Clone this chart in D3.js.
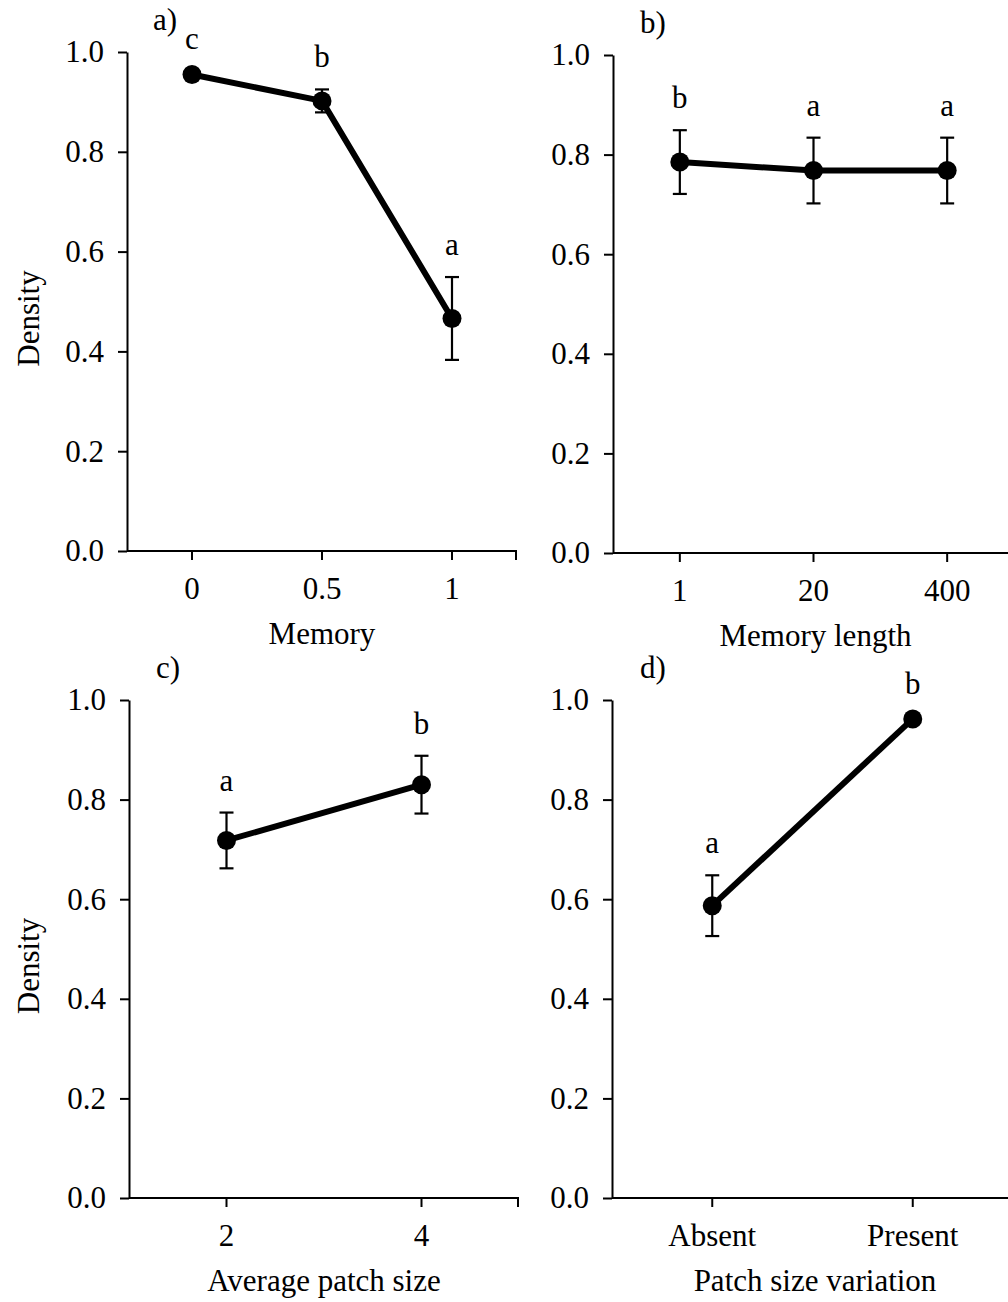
<!DOCTYPE html>
<html>
<head>
<meta charset="utf-8">
<script src="https://cdn.jsdelivr.net/npm/d3@7"></script>
<style>
  html, body { margin: 0; padding: 0; background: #fff; }
  svg { display: block; }
  text { font-family: "Liberation Serif", "Times New Roman", serif; fill: #000; }
</style>
</head>
<body>
<svg id="chart" width="1008" height="1302"></svg>
<script>
// ---------- DATA ----------
const yTickValues = [0, 0.2, 0.4, 0.6, 0.8, 1.0];

const memoryCategories = ["0", "0.5", "1"];
const memoryMeans      = [0.955, 0.902, 0.466];
const memoryErrors     = [0.004, 0.023, 0.083];
const memoryLetters    = ["c", "b", "a"];

const memLengthCategories = ["1", "20", "400"];
const memLengthMeans      = [0.785, 0.768, 0.768];
const memLengthErrors     = [0.064, 0.066, 0.066];
const memLengthLetters    = ["b", "a", "a"];

const patchSizeCategories = ["2", "4"];
const patchSizeMeans      = [0.718, 0.830];
const patchSizeErrors     = [0.056, 0.058];
const patchSizeLetters    = ["a", "b"];

const variationCategories = ["Absent", "Present"];
const variationMeans      = [0.587, 0.962];
const variationErrors     = [0.061, 0.004];
const variationLetters    = ["a", "b"];

// ---------- PANELS ----------
const panels = [
  { tag: "a)", title: "Memory", yLabel: "Density",
    cats: memoryCategories, means: memoryMeans, errs: memoryErrors, letters: memoryLetters,
    x0: 127, x1: 517, yTop: 52, yBot: 551, tagX: 153 },
  { tag: "b)", title: "Memory length", yLabel: null,
    cats: memLengthCategories, means: memLengthMeans, errs: memLengthErrors, letters: memLengthLetters,
    x0: 613, x1: 1014, yTop: 55, yBot: 553, tagX: 640 },
  { tag: "c)", title: "Average patch size", yLabel: "Density",
    cats: patchSizeCategories, means: patchSizeMeans, errs: patchSizeErrors, letters: patchSizeLetters,
    x0: 129, x1: 519, yTop: 700, yBot: 1198, tagX: 156 },
  { tag: "d)", title: "Patch size variation", yLabel: null,
    cats: variationCategories, means: variationMeans, errs: variationErrors, letters: variationLetters,
    x0: 612, x1: 1013, yTop: 700, yBot: 1198, tagX: 640 }
];

const svg = d3.select("#chart");
svg.append("rect").attr("width", 1008).attr("height", 1302).attr("fill", "#fff");

const FS = 31;

panels.forEach(p => {
  const g = svg.append("g");
  const x = d3.scaleBand().domain(p.cats).range([p.x0, p.x1]);
  const y = d3.scaleLinear().domain([0, 1]).range([p.yBot, p.yTop]);
  const cx = c => x(c) + x.bandwidth() / 2;

  // Y axis
  const yAxis = d3.axisLeft(y).tickValues(yTickValues).tickFormat(d3.format(".1f"))
    .tickSize(9).tickPadding(14).tickSizeOuter(0);
  const yg = g.append("g").attr("transform", `translate(${p.x0},0)`).call(yAxis);
  yg.select(".domain").attr("stroke", "#000").attr("stroke-width", 2);
  yg.selectAll(".tick line").attr("stroke", "#000").attr("stroke-width", 2);
  yg.selectAll(".tick text").attr("font-size", FS).attr("font-family", "Liberation Serif");

  // X axis line
  g.append("line").attr("x1", p.x0).attr("x2", p.x1).attr("y1", p.yBot).attr("y2", p.yBot)
    .attr("stroke", "#000").attr("stroke-width", 2);
  // end tick
  g.append("line").attr("x1", p.x1 - 1).attr("x2", p.x1 - 1).attr("y1", p.yBot).attr("y2", p.yBot + 9)
    .attr("stroke", "#000").attr("stroke-width", 2);
  // category ticks & labels
  p.cats.forEach(c => {
    g.append("line").attr("x1", cx(c)).attr("x2", cx(c)).attr("y1", p.yBot).attr("y2", p.yBot + 9)
      .attr("stroke", "#000").attr("stroke-width", 2);
    g.append("text").attr("x", cx(c)).attr("y", p.yBot + 48).attr("text-anchor", "middle")
      .attr("font-size", FS).text(c);
  });

  // axis title
  g.append("text").attr("x", (p.x0 + Math.min(p.x1, 1008)) / 2 + (p.x1 > 1008 ? 5 : 0))
    .attr("y", p.yBot + 93).attr("text-anchor", "middle").attr("font-size", FS).text(p.title);

  if (p.yLabel) {
    const yc = (p.yTop + p.yBot) / 2 + 17;
    g.append("text").attr("transform", `translate(39,${yc}) rotate(-90)`)
      .attr("text-anchor", "middle").attr("font-size", FS).text(p.yLabel);
  }

  // panel tag
  g.append("text").attr("x", p.tagX).attr("y", p.yTop - 22).attr("font-size", FS).text(p.tag);

  const pts = p.cats.map((c, i) => ({ c, m: p.means[i], e: p.errs[i], l: p.letters[i] }));

  // error bars
  pts.forEach(d => {
    if (d.e > 0.01) {
      const xc = cx(d.c);
      g.append("line").attr("x1", xc).attr("x2", xc).attr("y1", y(d.m + d.e)).attr("y2", y(d.m - d.e))
        .attr("stroke", "#000").attr("stroke-width", 2.2);
      [d.m + d.e, d.m - d.e].forEach(v => {
        g.append("line").attr("x1", xc - 7).attr("x2", xc + 7).attr("y1", y(v)).attr("y2", y(v))
          .attr("stroke", "#000").attr("stroke-width", 2.2);
      });
    }
  });

  // line
  const line = d3.line().x(d => cx(d.c)).y(d => y(d.m));
  g.append("path").datum(pts).attr("d", line).attr("fill", "none")
    .attr("stroke", "#000").attr("stroke-width", 6).attr("stroke-linejoin", "round");

  // markers
  g.selectAll("circle.pt").data(pts).enter().append("circle")
    .attr("cx", d => cx(d.c)).attr("cy", d => y(d.m)).attr("r", 9.5).attr("fill", "#000");

  // significance letters
  pts.forEach(d => {
    const top = d.e > 0.01 ? y(d.m + d.e) : y(d.m) - 3;
    g.append("text").attr("x", cx(d.c)).attr("y", top - 22).attr("text-anchor", "middle")
      .attr("font-size", FS).text(d.l);
  });
});
</script>
</body>
</html>
